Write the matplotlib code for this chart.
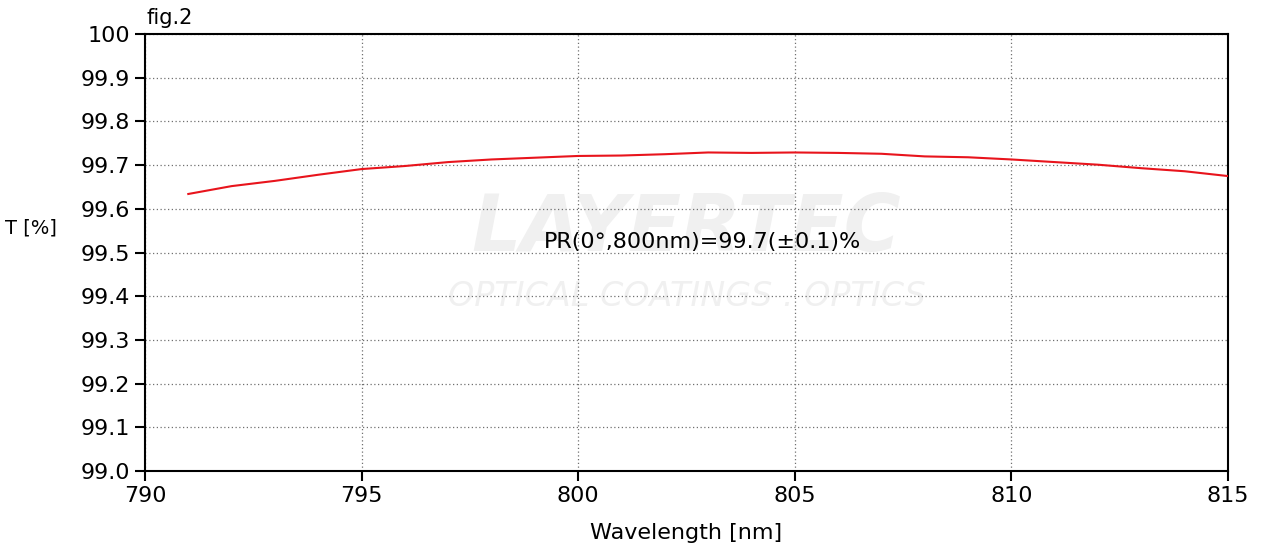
import matplotlib
matplotlib.use("Agg")
from matplotlib import pyplot as plt

plt.rcParams['font.family'] = ['DejaVu Sans']

# transmission curve
wavelength = [791, 792, 793, 794, 795, 796, 797, 798, 799, 800, 801, 802, 803,
              804, 805, 806, 807, 808, 809, 810, 811, 812, 813, 814, 815]
transmission = [99.634, 99.652, 99.664, 99.678, 99.691, 99.698, 99.707, 99.713,
                99.717, 99.721, 99.722, 99.725, 99.729, 99.728, 99.729, 99.728,
                99.726, 99.720, 99.718, 99.713, 99.707, 99.701, 99.693, 99.686,
                99.675]

x_ticks = [790, 795, 800, 805, 810, 815]
y_ticks = [99.0, 99.1, 99.2, 99.3, 99.4, 99.5, 99.6, 99.7, 99.8, 99.9, 100.0]
y_labels = ["99.0", "99.1", "99.2", "99.3", "99.4", "99.5",
            "99.6", "99.7", "99.8", "99.9", "100"]

fig = plt.figure(figsize=(12.64, 5.49), dpi=100)
ax = fig.add_axes([0.1147, 0.142, 0.8568, 0.796])

# faint company watermark behind the curve
ax.text(0.5, 0.555, "LAYERTEC", transform=ax.transAxes, ha="center", va="center",
        fontsize=56, fontweight="bold", fontstyle="italic", color="#f0f0f0", zorder=0)
ax.text(0.5, 0.40, "OPTICAL COATINGS . OPTICS", transform=ax.transAxes,
        ha="center", va="center", fontsize=24, fontstyle="italic",
        color="#f0f0f0", zorder=0)

ax.plot(wavelength, transmission, color="#e8141c", lw=1.5, zorder=3)

ax.set_xlim(790, 815)
ax.set_ylim(99.0, 100.0)
ax.set_xticks(x_ticks)
ax.set_yticks(y_ticks)
ax.set_yticklabels(y_labels)
ax.tick_params(labelsize=16, length=7, width=1.5, direction="out", pad=4)
ax.grid(True, color="#707070", linestyle=(0, (1, 2)), linewidth=0.9)
for s in ax.spines.values():
    s.set_linewidth(1.5)

ax.text(799.2, 99.525, "PR(0°,800nm)=99.7(±0.1)%", fontsize=16, va="center", zorder=4)

ax.set_xlabel("Wavelength [nm]", fontsize=16, labelpad=12)
fig.text(0.004, 0.585, "T [%]", fontsize=14, va="center")
fig.text(0.116, 0.968, "fig.2", fontsize=15, va="center")

plt.savefig("out.png", dpi=100)
